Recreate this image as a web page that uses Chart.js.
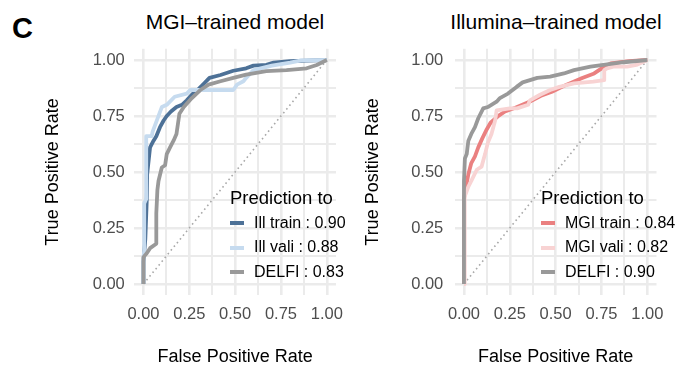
<!DOCTYPE html>
<html>
<head>
<meta charset="utf-8">
<script src="https://cdn.jsdelivr.net/npm/chart.js@4"></script>
<style>
  body { margin: 0; width: 675px; height: 369px; overflow: hidden; background: #fff;
         font-family: "Liberation Sans", Arial, sans-serif; position: relative; }
  canvas { position: absolute; top: 0; }
  .tag { position: absolute; left: 12px; top: 9px; font-size: 29px; font-weight: bold; line-height: 38px; }
  .ptitle { position: absolute; top: 9px; font-size: 21px; line-height: 26px; white-space: nowrap; transform: translateX(-50%); }
  .legend { position: absolute; white-space: nowrap; }
  .legend .lt { font-size: 18.5px; line-height: 22px; height: 23.75px; }
  .legend .row { position: relative; height: 24.5px; font-size: 16px; line-height: 24.5px; padding-left: 24px; }
  .legend .key { position: absolute; left: 0; top: 10.25px; width: 14px; height: 4px; }
</style>
</head>
<body>
<div class="tag">C</div>
<div class="ptitle" style="left:235px">MGI–trained model</div>
<div class="ptitle" style="left:556px">Illumina–trained model</div>
<canvas id="left" width="345" height="369" style="left:0"></canvas>
<canvas id="right" width="335" height="369" style="left:340px"></canvas>
<div class="legend" id="legLeft" style="left:230px; top:187px"></div>
<div class="legend" id="legRight" style="left:541px; top:187px"></div>
<script>
const majorVals = [0, 0.25, 0.5, 0.75, 1]
const minorVals = [0.125, 0.375, 0.625, 0.875]
const diagFpr = [0, 1]
const diagTpr = [0, 1]

// MGI-trained model
const mgiNames = ["Ill train", "Ill vali", "DELFI"]
const mgiAuc = ["0.90", "0.88", "0.83"]
const illTrainFpr = [0, 0, 0.01, 0.018, 0.02, 0.036, 0.055, 0.07, 0.09, 0.11, 0.127, 0.15, 0.18, 0.21, 0.236, 0.27, 0.3, 0.33, 0.36, 0.42, 0.49, 0.56, 0.6, 0.67, 0.71, 0.8, 0.89, 1]
const illTrainTpr = [0, 0.1, 0.2, 0.375, 0.49, 0.61, 0.64, 0.66, 0.7, 0.73, 0.75, 0.77, 0.79, 0.8, 0.82, 0.85, 0.87, 0.895, 0.92, 0.933, 0.952, 0.963, 0.975, 0.978, 0.988, 0.995, 0.997, 1]
const illValiFpr = [0, 0, 0.004, 0.004, 0.015, 0.015, 0.045, 0.05, 0.1, 0.127, 0.17, 0.236, 0.255, 0.49, 0.51, 0.545, 0.56, 0.6, 0.7, 0.8, 0.86, 1]
const illValiTpr = [0, 0.12, 0.15, 0.36, 0.38, 0.66, 0.66, 0.68, 0.79, 0.8, 0.836, 0.85, 0.866, 0.866, 0.89, 0.905, 0.92, 0.955, 0.975, 0.988, 0.998, 1]
const delfiMgiFpr = [0, 0, 0.018, 0.036, 0.07, 0.07, 0.076, 0.082, 0.1, 0.118, 0.127, 0.145, 0.164, 0.18, 0.196, 0.22, 0.264, 0.31, 0.355, 0.42, 0.49, 0.56, 0.67, 0.78, 0.89, 0.945, 1]
const delfiMgiTpr = [0, 0.12, 0.137, 0.16, 0.18, 0.315, 0.42, 0.46, 0.52, 0.53, 0.58, 0.61, 0.64, 0.67, 0.76, 0.79, 0.83, 0.866, 0.89, 0.905, 0.92, 0.935, 0.95, 0.955, 0.963, 0.978, 1]

// Illumina-trained model
const illNames = ["MGI train", "MGI vali", "DELFI"]
const illAuc = ["0.84", "0.82", "0.90"]
const mgiTrainFpr = [0, 0, 0.008, 0.015, 0.024, 0.04, 0.06, 0.078, 0.1, 0.124, 0.145, 0.19, 0.224, 0.28, 0.36, 0.42, 0.48, 0.56, 0.645, 0.71, 0.755, 0.8, 0.9, 1]
const mgiTrainTpr = [0, 0.38, 0.42, 0.45, 0.49, 0.54, 0.57, 0.61, 0.65, 0.69, 0.72, 0.752, 0.77, 0.787, 0.815, 0.84, 0.858, 0.89, 0.92, 0.94, 0.965, 0.985, 0.995, 1]
const mgiValiFpr = [0, 0.004, 0.004, 0.024, 0.04, 0.07, 0.096, 0.115, 0.13, 0.15, 0.17, 0.178, 0.25, 0.29, 0.35, 0.36, 0.415, 0.47, 0.52, 0.6, 0.705, 0.765, 0.765, 0.78, 0.815, 0.89, 0.94, 1]
const mgiValiTpr = [0, 0, 0.39, 0.435, 0.46, 0.51, 0.524, 0.58, 0.63, 0.67, 0.73, 0.775, 0.784, 0.784, 0.8, 0.82, 0.845, 0.866, 0.88, 0.896, 0.903, 0.91, 0.955, 0.963, 0.97, 0.97, 0.978, 1]
const delfiIllFpr = [0, 0, 0.005, 0.015, 0.024, 0.04, 0.06, 0.078, 0.105, 0.13, 0.178, 0.196, 0.24, 0.287, 0.32, 0.4, 0.47, 0.545, 0.6, 0.69, 0.78, 0.87, 1]
const delfiIllTpr = [0, 0.46, 0.56, 0.58, 0.64, 0.67, 0.7, 0.74, 0.784, 0.79, 0.814, 0.83, 0.85, 0.88, 0.9, 0.92, 0.926, 0.94, 0.955, 0.97, 0.98, 0.99, 1]

const FONT = "'Liberation Sans', Arial, sans-serif"
const GRID = "#EBEBEB"

const toPoints = (xs, ys) => xs.map((x, i) => ({ x: x, y: ys[i] }))

function rocLine(label, xs, ys, color, order) {
  return {
    label: label,
    data: toPoints(xs, ys),
    borderColor: color,
    backgroundColor: color,
    borderWidth: 3.8,
    borderJoinStyle: "round",
    pointRadius: 0,
    tension: 0,
    order: order
  }
}

function makeChart(id, cfg) {
  const axisBase = (title) => ({
    type: "linear",
    min: -0.05,
    max: 1.05,
    border: { display: false },
    afterBuildTicks: (s) => { s.ticks = majorVals.concat(minorVals).sort((a, b) => a - b).map(v => ({ value: v })) },
    grid: {
      color: GRID,
      drawTicks: false,
      lineWidth: (c) => majorVals.includes(c.tick.value) ? 2.6 : 2
    },
    ticks: {
      autoSkip: false,
      maxRotation: 0,
      color: "#4D4D4D",
      font: { family: FONT, size: 16.5 },
      callback: (v) => majorVals.includes(v) ? v.toFixed(2) : ""
    },
    title: { display: true, text: title, color: "#000", font: { family: FONT, size: 18 } }
  })

  const x = axisBase("False Positive Rate")
  x.ticks.padding = 9.6
  x.title.padding = { top: 0, bottom: 1.2 }
  // keep the panel size fixed, labels may overhang like in ggplot
  x.afterFit = (s) => { s.height = 73.8; s.paddingLeft = 0; s.paddingRight = 0 }

  const y = axisBase("True Positive Rate")
  y.ticks.padding = cfg.tickPad
  y.title.padding = { top: cfg.titlePad, bottom: 0 }
  y.afterFit = (s) => { s.width = cfg.areaLeft; s.paddingTop = 0; s.paddingBottom = 0 }

  return new Chart(document.getElementById(id), {
    type: "scatter",
    data: {
      datasets: [
        {
          label: "diag",
          data: toPoints(diagFpr, diagTpr),
          borderColor: "#A8A8A8",
          borderWidth: 1.6,
          borderDash: [1.6, 3.2],
          pointRadius: 0,
          showLine: true,
          order: 9
        }
      ].concat(cfg.series.map((s, i) => rocLine(`${cfg.names[i]} : ${cfg.auc[i]}`, s[0], s[1], s[2], 3 - i)))
    },
    options: {
      responsive: false,
      animation: false,
      showLine: true,
      layout: { padding: { top: 48.8, left: 0, right: cfg.padRight, bottom: 0 } },
      plugins: { legend: { display: false }, tooltip: { enabled: false } },
      scales: { x: x, y: y }
    }
  })
}

function buildLegend(el, chart) {
  let html = `<div class="lt">Prediction to</div>`
  chart.data.datasets.filter(d => d.label !== "diag").forEach(d => {
    html += `<div class="row"><span class="key" style="background:${d.borderColor}"></span>${d.label}</div>`
  })
  el.innerHTML = html
}

const leftChart = makeChart("left", {
  names: mgiNames,
  auc: mgiAuc,
  areaLeft: 134.3,
  padRight: 9,
  tickPad: 9.5,
  titlePad: 42.2,
  series: [
    [illTrainFpr, illTrainTpr, "#4D7197"],
    [illValiFpr, illValiTpr, "#C6DBEF"],
    [delfiMgiFpr, delfiMgiTpr, "#999999"]
  ]
})

const rightChart = makeChart("right", {
  names: illNames,
  auc: illAuc,
  areaLeft: 114.8,
  padRight: 18.5,
  tickPad: 11.5,
  titlePad: 22.2,
  series: [
    [mgiTrainFpr, mgiTrainTpr, "#EA8080"],
    [mgiValiFpr, mgiValiTpr, "#F8D3D3"],
    [delfiIllFpr, delfiIllTpr, "#999999"]
  ]
})

buildLegend(document.getElementById("legLeft"), leftChart)
buildLegend(document.getElementById("legRight"), rightChart)
</script>
</body>
</html>
